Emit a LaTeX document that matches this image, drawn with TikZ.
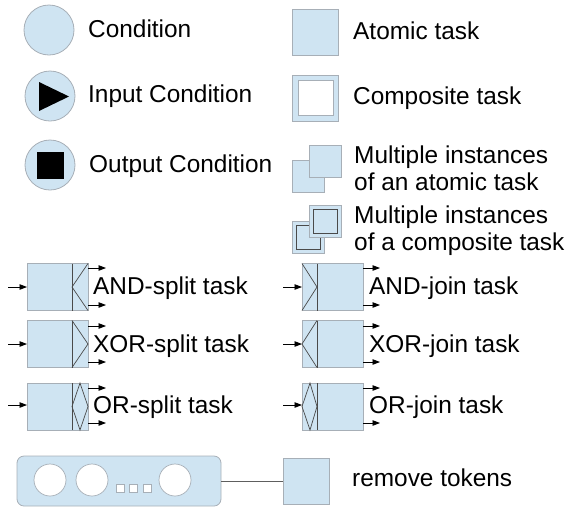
\documentclass[tikz,border=0pt]{standalone}
\usepackage{fontspec}
\setmainfont{Liberation Sans}
\usetikzlibrary{arrows.meta, calc}
\usepackage{xcolor}
\definecolor{cFill}{HTML}{CFE4F2}
\definecolor{cEdge}{HTML}{A7AFB7}
\definecolor{cLine}{HTML}{4A4A4A}
\definecolor{cLink}{HTML}{5E5E5E}
\tikzset{
  condnode/.style={
    circle, draw=cEdge, fill=cFill, minimum size=50pt,
    inner sep=0pt, outer sep=0pt, line width=0.8pt,
  },
  tasknode/.style={
    draw=cEdge, fill=#1, minimum width=46pt, minimum height=46pt,
    inner sep=0pt, outer sep=0pt, line width=0.8pt,
  },
  tasknode/.default=cFill,
  gatebox/.style={
    draw=cEdge, fill=cFill, minimum width=61pt, minimum height=47pt,
    inner sep=0pt, outer sep=0pt, line width=0.8pt,
  },
  gline/.style={draw=cLine, line width=0.7pt},
  lbl/.style={anchor=base west, inner sep=0pt, font=\fontsize{24.4}{27}\selectfont, text=black},
  arw/.style={-{Triangle[length=7.5pt, width=5.5pt]}, line width=0.8pt, color=#1},
  arw/.default=black,
}

\begin{document}
\begin{tikzpicture}[x=1pt, y=-1pt,
  minibox/.style={draw=cEdge, fill=cFill, minimum size=32pt,
    inner sep=0pt, outer sep=0pt, line width=0.8pt},
  token/.style={circle, draw=cEdge, fill=white, minimum size=32pt,
    inner sep=0pt, line width=0.7pt},
  dot/.style={draw=cEdge, fill=white, minimum size=8pt,
    inner sep=0pt, line width=0.6pt}
]
  \useasboundingbox (0,0) rectangle (567,507);

  % Conditions
  \node[condnode] (cond) at (49,30) {};
  \node[lbl] (condT) at (88,37.5) {Condition};
  \node[condnode] (incond) at (50,96) {};
  \fill (39,82) -- (69,96.5) -- (39,111) -- cycle;
  \node[lbl] (incondT) at (88,102) {Input Condition};
  \node[condnode] (outcond) at (50,165) {};
  \node[fill=black, minimum size=27pt, inner sep=0pt] (outmark) at (outcond) {};
  \node[lbl] (outcondT) at (89,172) {Output Condition};

  % Tasks
  \node[tasknode] (atomic) at (315.5,32) {};
  \node[lbl] (atomicT) at (353,39) {Atomic task};
  \node[tasknode] (composite) at (315.5,98) {};
  \node[draw=cEdge, fill=white, minimum size=35pt, inner sep=0pt, line width=0.8pt]
    (compositeIn) at (composite) {};
  \node[lbl] (compositeT) at (353,104) {Composite task};

  % Multiple instances
  \node[minibox] (miAtomicB) at (308.5,176.5) {};
  \node[minibox] (miAtomicF) at (325.5,161.5) {};
  \node[lbl] (miAtomicT1) at (354,163) {Multiple instances};
  \node[lbl] (miAtomicT2) at (354,190) {of an atomic task};
  \node[minibox] (miCompB) at (308.5,237) {};
  \node[draw=cLine, minimum size=24pt, inner sep=0pt, line width=0.7pt] at (miCompB) {};
  \node[minibox] (miCompF) at (325.5,221.5) {};
  \node[draw=cLine, minimum size=24pt, inner sep=0pt, line width=0.7pt] at (miCompF) {};
  \node[lbl] (miCompT1) at (354,223) {Multiple instances};
  \node[lbl] (miCompT2) at (354,250) {of a composite task};

  % Splits
  \node[gatebox] (andsplit) at (57.5,287) {};
  \draw[gline] ($(andsplit.north east)+(-16,0)$) -- ($(andsplit.south east)+(-16,0)$);
  \draw[gline] (andsplit.north east) -- ($(andsplit.east)+(-16,0)$) -- (andsplit.south east);
  \coordinate (andsplitIn) at (8,287);
  \coordinate (andsplitA) at (106,268);
  \coordinate (andsplitB) at (106,305);
  \draw[arw] (andsplitIn) -- (andsplit);
  \draw[arw] (andsplit.east |- andsplitA) -- (andsplitA);
  \draw[arw] (andsplit.east |- andsplitB) -- (andsplitB);
  \node[lbl] (andsplitT) at (93,294) {AND-split task};

  \node[gatebox] (xorsplit) at (57.5,344) {};
  \draw[gline] ($(xorsplit.north east)+(-16,0)$) -- ($(xorsplit.south east)+(-16,0)$);
  \draw[gline] ($(xorsplit.north east)+(-16,0)$) -- (xorsplit.east) -- ($(xorsplit.south east)+(-16,0)$);
  \coordinate (xorsplitIn) at (8,344);
  \coordinate (xorsplitA) at (106,326);
  \coordinate (xorsplitB) at (106,362);
  \draw[arw] (xorsplitIn) -- (xorsplit);
  \draw[arw] (xorsplit.east |- xorsplitA) -- (xorsplitA);
  \draw[arw] (xorsplit.east |- xorsplitB) -- (xorsplitB);
  \node[lbl] (xorsplitT) at (93,352) {XOR-split task};

  \node[gatebox] (orsplit) at (57.5,406.5) {};
  \draw[gline] ($(orsplit.north east)+(-16,0)$) -- ($(orsplit.south east)+(-16,0)$);
  \draw[gline] ($(orsplit.north east)+(-8,0)$) -- (orsplit.east) -- ($(orsplit.south east)+(-8,0)$)
    -- ($(orsplit.east)+(-16,0)$) -- cycle;
  \coordinate (orsplitIn) at (8,405);
  \coordinate (orsplitA) at (106,388);
  \coordinate (orsplitB) at (106,423);
  \draw[arw] (orsplitIn) -- (orsplit.west |- orsplitIn);
  \draw[arw] (orsplit.east |- orsplitA) -- (orsplitA);
  \draw[arw] (orsplit.east |- orsplitB) -- (orsplitB);
  \node[lbl] (orsplitT) at (93,413) {OR-split task};

  % Joins
  \node[gatebox] (andjoin) at (332.5,287) {};
  \draw[gline] ($(andjoin.north west)+(15,0)$) -- ($(andjoin.south west)+(15,0)$);
  \draw[gline] (andjoin.north west) -- ($(andjoin.west)+(15,0)$) -- (andjoin.south west);
  \coordinate (andjoinIn) at (283,287);
  \coordinate (andjoinA) at (380,268);
  \coordinate (andjoinB) at (380,305);
  \draw[arw] (andjoinIn) -- (andjoin);
  \draw[arw] (andjoin.east |- andjoinA) -- (andjoinA);
  \draw[arw] (andjoin.east |- andjoinB) -- (andjoinB);
  \node[lbl] (andjoinT) at (369,294) {AND-join task};

  \node[gatebox] (xorjoin) at (332.5,344) {};
  \draw[gline] ($(xorjoin.north west)+(15,0)$) -- ($(xorjoin.south west)+(15,0)$);
  \draw[gline] ($(xorjoin.north west)+(15,0)$) -- (xorjoin.west) -- ($(xorjoin.south west)+(15,0)$);
  \coordinate (xorjoinIn) at (283,344);
  \coordinate (xorjoinA) at (380,326);
  \coordinate (xorjoinB) at (380,362);
  \draw[arw] (xorjoinIn) -- (xorjoin);
  \draw[arw] (xorjoin.east |- xorjoinA) -- (xorjoinA);
  \draw[arw] (xorjoin.east |- xorjoinB) -- (xorjoinB);
  \node[lbl] (xorjoinT) at (369,352) {XOR-join task};

  \node[gatebox] (orjoin) at (332.5,406.5) {};
  \draw[gline] ($(orjoin.north west)+(15,0)$) -- ($(orjoin.south west)+(15,0)$);
  \draw[gline] ($(orjoin.north west)+(8,0)$) -- ($(orjoin.west)+(15,0)$) -- ($(orjoin.south west)+(8,0)$)
    -- (orjoin.west) -- cycle;
  \coordinate (orjoinIn) at (283,405);
  \coordinate (orjoinA) at (380,388);
  \coordinate (orjoinB) at (380,423);
  \draw[arw] (orjoinIn) -- (orjoin.west |- orjoinIn);
  \draw[arw] (orjoin.east |- orjoinA) -- (orjoinA);
  \draw[arw] (orjoin.east |- orjoinB) -- (orjoinB);
  \node[lbl] (orjoinT) at (369,413) {OR-join task};

  % Remove tokens
  \node[draw=cEdge, fill=cFill, rounded corners=7pt, minimum width=204pt, minimum height=50pt,
        inner sep=0pt, outer sep=0pt, line width=0.8pt] (region) at (119,481) {};
  \node[token] (tokA) at (50,480) {};
  \node[token] (tokB) at (92,480) {};
  \node[token] (tokC) at (175,480) {};
  \node[dot] (dotA) at (120,488.5) {};
  \node[dot] (dotB) at (133.5,488.5) {};
  \node[dot] (dotC) at (147,488.5) {};
  \node[tasknode] (remove) at (306,481) {};
  \draw[cLink, line width=0.8pt] (region) -- (remove);
  \node[lbl] (removeT) at (352,486) {remove tokens};

\end{tikzpicture}
\end{document}
